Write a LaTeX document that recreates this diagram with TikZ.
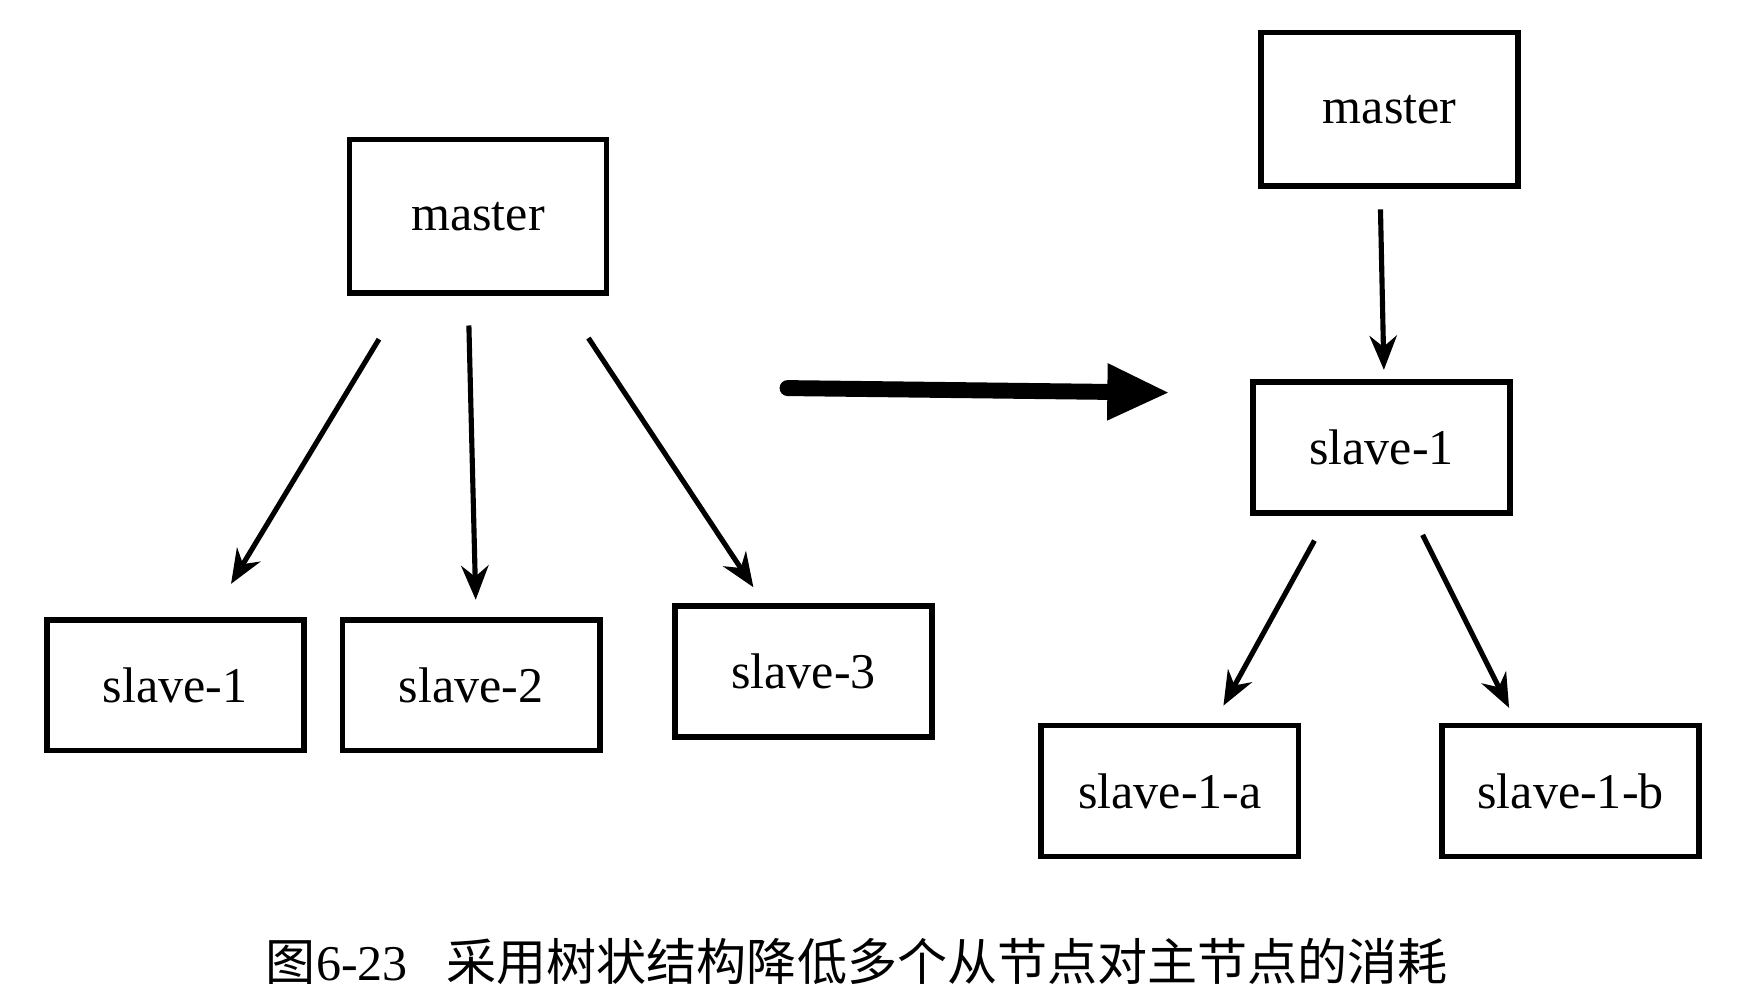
\documentclass[tikz,border=0pt]{standalone}
\usepackage{fontspec}
\setmainfont{Liberation Serif}
\newfontfamily\cjk{Noto Sans CJK SC}
\usetikzlibrary{arrows.meta}
\begin{document}
\begin{tikzpicture}[x=1pt,y=-1pt,
  box/.style={draw,line width=5pt,minimum width=226pt,minimum height=115pt,font=\fontsize{44}{50}\selectfont},
  arr/.style={line width=4.5pt,-{Stealth[length=30pt,width=24pt]}}]
\useasboundingbox (0,0) rectangle (1550,879);
\node[box,minimum height=135pt] (m) at (420,190) {master};
\node[box] (s1) at (154,602) {slave-1};
\node[box] (s2) at (414,602) {slave-2};
\node[box] (s3) at (706,590) {slave-3};
\node[box,minimum height=135pt] (rm) at (1221,96) {master};
\node[box] (rs) at (1214,393) {slave-1};
\node[box] (ra) at (1028,695) {slave-1-a};
\node[box] (rb) at (1380,695) {slave-1-b};
\coordinate (a1) at (333,298); \coordinate (b1) at (203,513);
\coordinate (a2) at (412,286); \coordinate (b2) at (418,527);
\coordinate (a3) at (517,297); \coordinate (b3) at (662,516);
\coordinate (g1) at (692,341); \coordinate (g2) at (1028,345);
\coordinate (a4) at (1213,184); \coordinate (b4) at (1216,325);
\coordinate (a5) at (1155,475); \coordinate (b5) at (1075,620);
\coordinate (a6) at (1250,470); \coordinate (b6) at (1326,622);
\draw[arr] (a1) -- (b1);
\draw[arr] (a2) -- (b2);
\draw[arr] (a3) -- (b3);
\draw[line width=14pt,line cap=round,-{Triangle[length=55pt,width=46pt]}] (g1) -- (g2);
\draw[arr] (a4) -- (b4);
\draw[arr] (a5) -- (b5);
\draw[arr] (a6) -- (b6);
\node (cap) at (753,845) {\fontsize{44}{50}\selectfont {\cjk 图}6-23\hspace{34pt}{\cjk 采用树状结构降低多个从节点对主节点的消耗}};
\end{tikzpicture}
\end{document}
